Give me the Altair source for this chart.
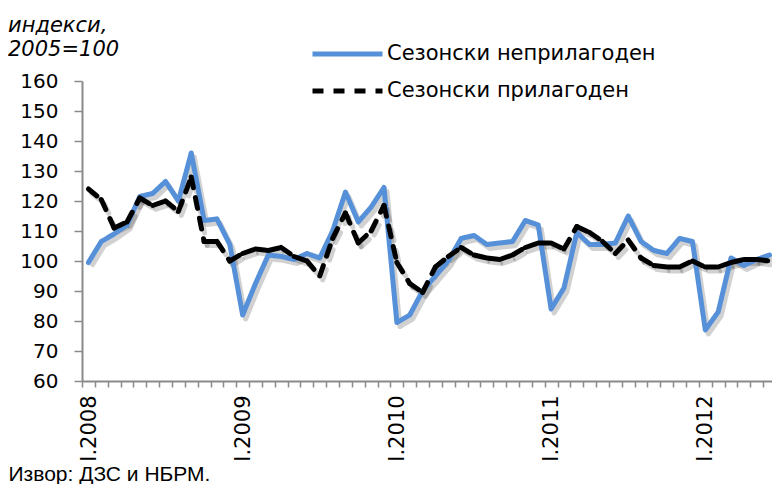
import altair as alt
import pandas as pd

year_labels = ["I.2008", "I.2009", "I.2010", "I.2011", "I.2012"]
series_names = ["Сезонски неприлагоден", "Сезонски прилагоден"]
y_ticks = [60, 70, 80, 90, 100, 110, 120, 130, 140, 150, 160]

# monthly, Jan 2008 - Jun 2012
unadjusted = [
    99.5, 106.5, 109.0, 112.0, 121.5, 122.5, 126.5, 120.0, 136.0, 113.5, 114.0, 105.5,
    82.0, 92.5, 102.0, 101.5, 100.5, 102.5, 101.0, 110.0, 123.0, 113.0, 118.0, 124.5,
    79.5, 82.0, 90.0, 95.0, 100.0, 107.5, 108.5, 105.5, 106.0, 106.5, 113.5, 112.0,
    84.0, 91.0, 109.5, 105.5, 105.5, 106.0, 115.0, 106.5, 103.5, 102.5, 107.5, 106.5,
    77.0, 83.0, 101.0, 98.5, 100.5, 102.0,
]
adjusted = [
    124.0, 120.5, 111.0, 113.0, 121.0, 118.5, 120.0, 116.5, 128.0, 106.5, 106.5, 100.0,
    102.5, 104.0, 103.5, 104.5, 101.5, 100.0, 95.0, 107.5, 116.0, 106.0, 110.0, 118.5,
    99.5, 92.5, 89.5, 98.0, 101.5, 104.5, 102.0, 101.0, 100.5, 102.0, 104.5, 106.0,
    106.0, 104.0, 111.5, 109.5, 106.5, 102.5, 107.0, 101.0, 98.5, 98.0, 98.0, 100.0,
    98.0, 98.0, 99.5, 100.5, 100.5, 100.0,
]

n = len(unadjusted)
blue_df = pd.DataFrame({"t": list(range(n)), "v": unadjusted, "series": series_names[0]})
rows = []
for k in range(n - 1):
    for j in (k, k + 1):
        rows.append({"t": j, "v": adjusted[j], "seg": k, "series": series_names[1]})
black_df = pd.DataFrame(rows)

boundaries = [i - 0.5 for i in range(n + 1)]
label_pos = [12 * k - 0.5 for k in range(len(year_labels))]
label_expr = " : ".join(
    f"datum.value == {p} ? '{lab}'" for p, lab in zip(label_pos, year_labels)
) + " : ''"
label_test = "indexof([" + ",".join(str(p) for p in label_pos) + "], datum.value) >= 0"

W, H = 694, 300
axis_color = "#8a8a8a"
font = "DejaVu Sans"

x_scale = alt.Scale(domain=[-0.5, n - 0.5], nice=False, zero=False)
y_scale = alt.Scale(domain=[60, 160], nice=False, zero=False)

x_axis = alt.Axis(
    values=boundaries, labelExpr=label_expr, labelAngle=-90, labelOverlap=False,
    labelFlush=False, labelOffset=7,
    labelFontSize={"condition": {"test": label_test, "value": 21}, "value": 0},
    labelFont=font,
    labelColor="black", labelPadding=8, tickSize=6, tickColor=axis_color,
    tickWidth=1.5, domainColor=axis_color, domainWidth=2, grid=False,
    title="Извор: ДЗС и НБРМ.", titleAnchor="start", titleAlign="left",
    titleX=-74, titleY=99, titleBaseline="alphabetic", titleFont="Liberation Sans",
    titleFontSize=21, titleFontWeight="normal", titleColor="black",
)
y_axis = alt.Axis(
    values=y_ticks, tickSize=8, labelPadding=16, minExtent=74, maxExtent=74,
    labelFontSize=20, labelFont=font, labelColor="black", title=None, grid=False,
    tickColor=axis_color, tickWidth=1.5, domainColor=axis_color, domainWidth=2,
)

legend = alt.Legend(
    orient="none", legendX=255, legendY=-37.5, title=None, labelFontSize=21,
    labelFont=font, labelColor="black", symbolType="M-5,0H5", symbolSize=196,
    symbolStrokeWidth=5, labelOffset=29, rowPadding=15, labelLimit=0,
)
color = alt.Color("series:N", scale=alt.Scale(domain=series_names, range=["#5590d9", "#000000"]), legend=legend)
dash = alt.StrokeDash("series:N", scale=alt.Scale(domain=series_names, range=[[1, 0], [11, 10]]), legend=legend)

X = alt.X("t:Q", scale=x_scale, axis=x_axis)
Y = alt.Y("v:Q", scale=y_scale, axis=y_axis)

blue_shadow = alt.Chart(blue_df).mark_line(
    strokeWidth=5, color="#000000", opacity=0.18, xOffset=3, yOffset=4, strokeJoin="round"
).encode(x=X, y=Y)
black_shadow = alt.Chart(black_df).mark_line(
    strokeWidth=5, color="#000000", opacity=0.18, xOffset=3, yOffset=4, strokeCap="round",
    strokeDash=[11, 10]
).encode(x=X, y=Y, detail="seg:N")
blue = alt.Chart(blue_df).mark_line(strokeWidth=5, strokeJoin="round", strokeCap="round").encode(
    x=X, y=Y, color=color, strokeDash=dash
)
black = alt.Chart(black_df).mark_line(strokeWidth=5, strokeCap="round").encode(
    x=X, y=Y, color=color, strokeDash=dash, detail="seg:N"
)

chart = alt.layer(blue_shadow, black_shadow, blue, black).properties(
    width=W, height=H,
    padding={"left": 0, "right": -11, "top": 6, "bottom": 0},
    title=alt.TitleParams(
        text=["индекси,", "2005=100"], anchor="start", font=font,
        fontSize=21, fontStyle="italic", fontWeight="normal", lineHeight=24,
        color="black", offset=-16,
    ),
).configure_view(stroke=None)

chart.save("out.html", embed_options={"renderer": "svg", "actions": False})
